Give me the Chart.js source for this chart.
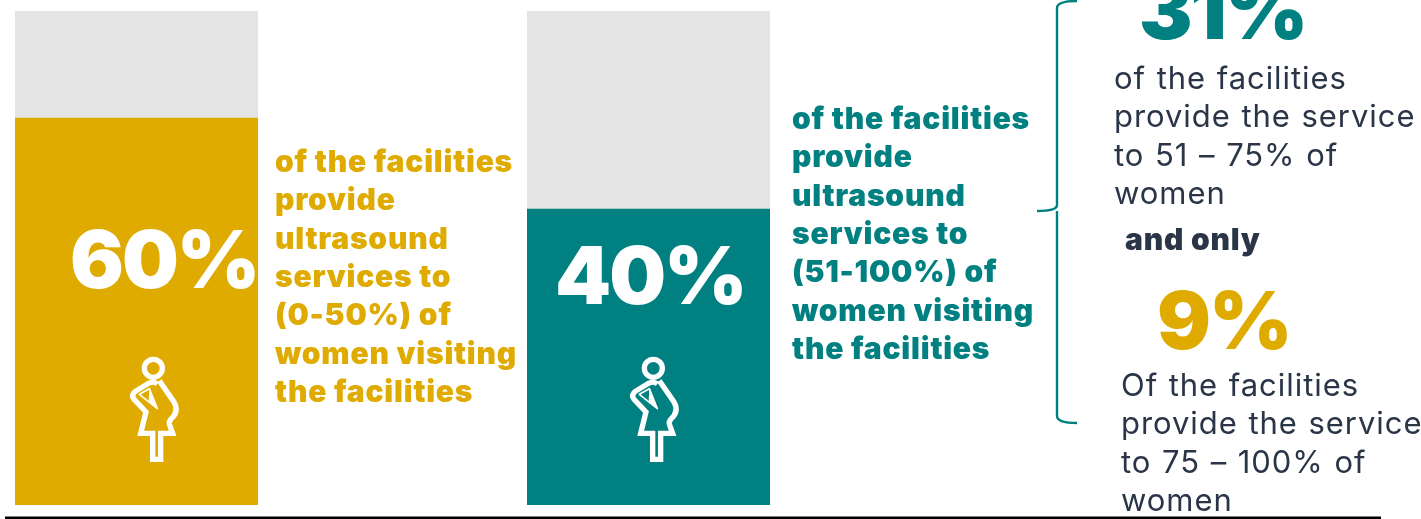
<!DOCTYPE html>
<html>
<head>
<meta charset="utf-8">
<script src="https://cdn.jsdelivr.net/npm/chart.js@4/dist/chart.umd.min.js"></script>
<style>
  html, body { margin: 0; padding: 0; background: #fff; overflow: hidden; }
  #stage { position: relative; width: 1421px; height: 519px; font-family: Inter, sans-serif; }
  .bar-box { position: absolute; top: 11px; width: 243px; height: 494px; }
  .txt { position: absolute; white-space: pre; }
  .big { font-weight: 900; font-size: 80px; line-height: 80px; letter-spacing: -2px; }
  .lead { font-weight: 900; font-size: 30px; line-height: 38.3px; letter-spacing: 0.8px; }
  .note { font-weight: 400; font-size: 31px; line-height: 38.3px; letter-spacing: 0.95px; word-spacing: 1px; color: #2a3547; }
  svg { position: absolute; left: 0; top: 0; }
</style>
</head>
<body>
<div id="stage">
  <div class="bar-box" style="left:15px"><canvas id="lowBar"></canvas></div>
  <div class="bar-box" style="left:527px"><canvas id="highBar"></canvas></div>
  <svg id="overlay" width="1421" height="519"></svg>
</div>
<script>
// Share of facilities in each coverage band
const bandLabels = ['0-50%', '51-100%'];
const bandShares = [60, 40];
const axisTops = [76.6, 66.8];
const subBandShares = [31, 9];

const GOLD = '#dfab00';
const TEAL = '#008080';
const TRACK = '#e4e4e4';

const leadLines = ['of the facilities', 'provide', 'ultrasound', 'services to', null, 'women visiting', 'the facilities'];
const noteHigh = ['of the facilities', 'provide the service', 'to 51 \u2013 75% of', 'women'];
const noteTop = ['Of the facilities', 'provide the service', 'to 75 \u2013 100% of', 'women'];

function drawBar(id, index, color) {
    new Chart(document.getElementById(id), {
        type: 'bar',
        data: {
            labels: [bandLabels[index]],
            datasets: [
                { data: [bandShares[index]], backgroundColor: color, grouped: false, order: 1 },
                { data: [axisTops[index]], backgroundColor: TRACK, grouped: false, order: 2 }
            ]
        },
        options: {
            responsive: true,
            maintainAspectRatio: false,
            animation: false,
            layout: { padding: 0 },
            barPercentage: 1,
            categoryPercentage: 1,
            plugins: { legend: { display: false }, tooltip: { enabled: false } },
            scales: {
                x: { display: false },
                y: { display: false, min: 0, max: axisTops[index] }
            }
        }
    });
}

function addText(text, cls, left, top, color) {
    const el = document.createElement('div');
    el.className = 'txt ' + cls;
    el.textContent = text;
    el.style.left = left + 'px';
    el.style.top = top + 'px';
    if (color) el.style.color = color;
    document.getElementById('stage').appendChild(el);
}

function addLines(lines, cls, left, top, color) {
    lines.forEach((line, i) => addText(line, cls, left, top + i * 38.3, color));
}

// Outline figure, drawn in a 100x130 box
function figure(x, y) {
    return `<g transform="translate(${x} ${y}) scale(0.3333)" fill="none" stroke="#fff" stroke-width="16">
      <circle cx="160" cy="85" r="27"/>
      <path d="M178 122 L222 186 Q238 214 214 236 Q204 246 210 258 L218 280 L182 280 L182 358 L158 358 L158 280 L122 280 L138 216 L102 178 Q92 166 106 154 L146 130 Q160 122 172 132"/>
      <path d="M118 163 L148 146 L172 206 Z" stroke-width="5" stroke-linejoin="round"/>
      <path d="M148 146 L172 206 L146 184 Z" stroke="none" fill="#fff"/>
    </g>`;
}

drawBar('lowBar', 0, GOLD);
drawBar('highBar', 1, TEAL);

addText(bandShares[0] + '%', 'big', 70, 219, '#fff');
addText(bandShares[1] + '%', 'big', 555, 235, '#fff');
addText(subBandShares[0] + '%', 'big', 1139, -30, TEAL);
addText(subBandShares[1] + '%', 'big', 1157, 280, GOLD);

const lowLines = leadLines.slice();
lowLines[4] = '(' + bandLabels[0] + ') of';
addLines(lowLines, 'lead', 275, 142, GOLD);
const highLines = leadLines.slice();
highLines[4] = '(' + bandLabels[1] + ') of';
addLines(highLines, 'lead', 792, 99, TEAL);

addLines(noteHigh, 'note', 1114, 59);
addText('and only', 'lead', 1125, 220, '#2a3547');
addLines(noteTop, 'note', 1121, 366);

document.getElementById('overlay').innerHTML =
    figure(100, 340) + figure(600, 340) +
    `<path d="M1077 1 Q1057 1 1057 8 L1057 205 Q1057 211 1037 211 M1057 211 Q1057 211 1057 217 L1057 416 Q1057 423 1077 423" fill="none" stroke="${TEAL}" stroke-width="2.4"/>` +
    `<line x1="5" y1="518" x2="1381" y2="518" stroke="#000" stroke-width="3"/>`;
</script>
</body>
</html>
